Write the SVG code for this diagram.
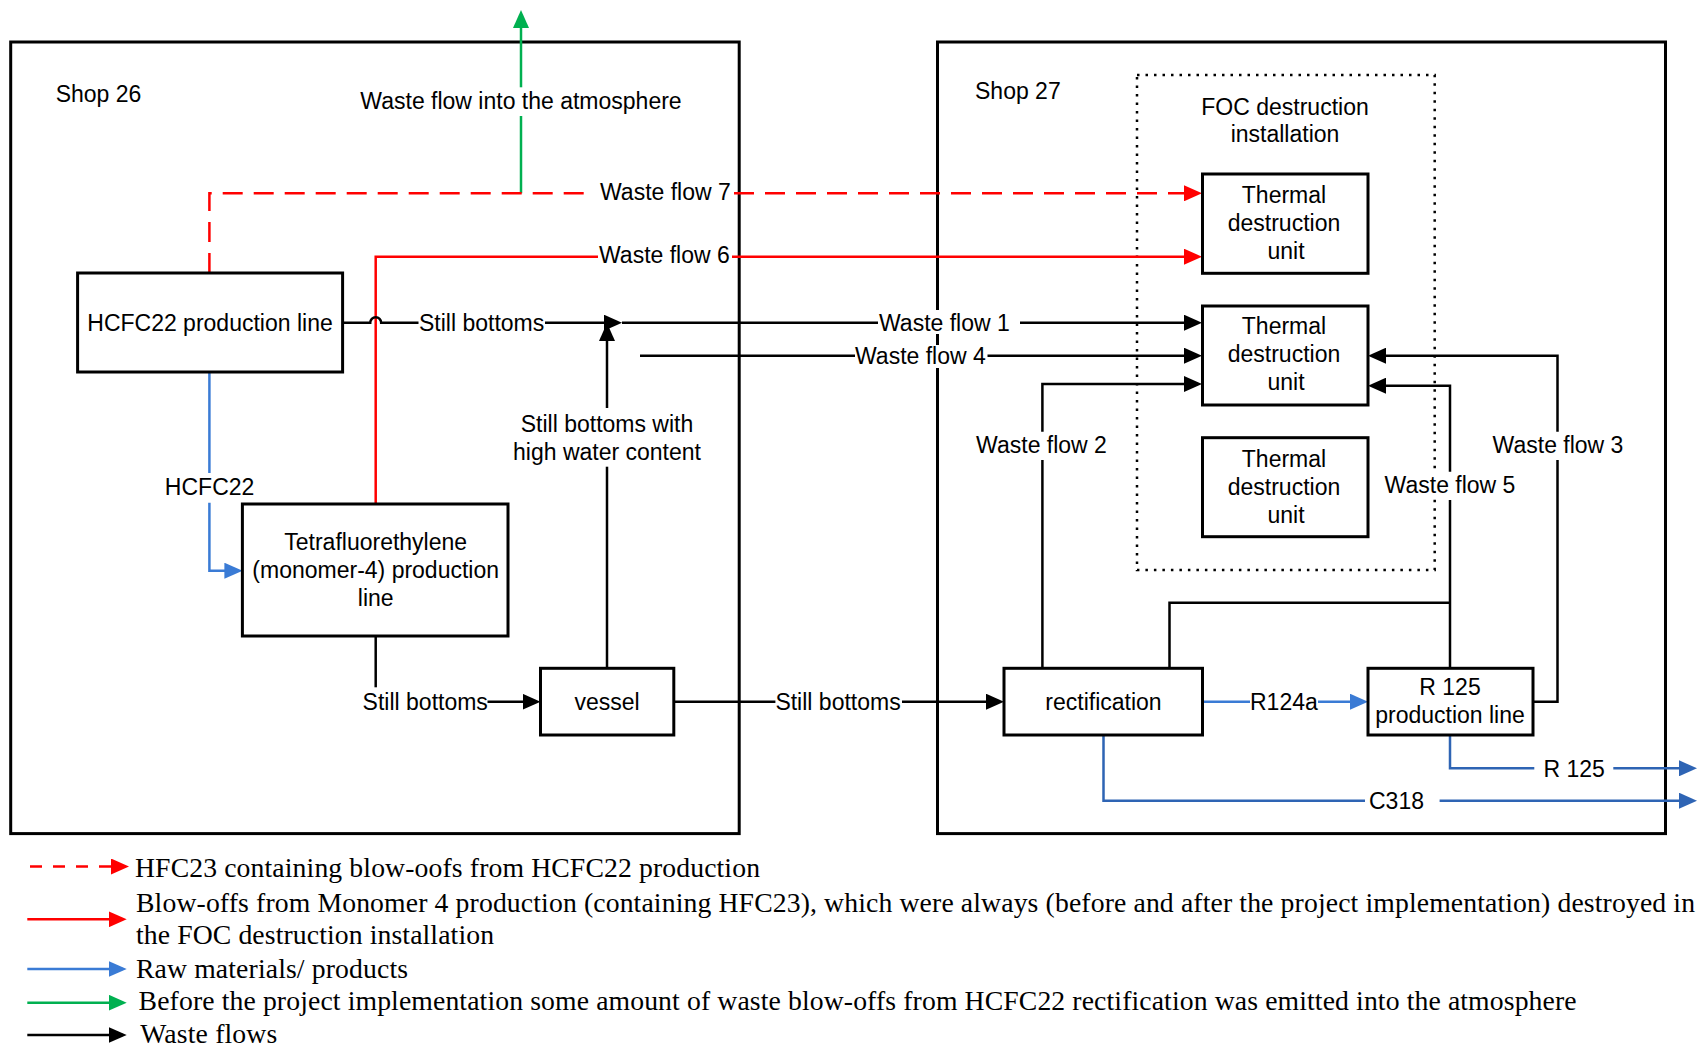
<svg xmlns="http://www.w3.org/2000/svg" width="1698" height="1048" viewBox="0 0 1698 1048">
<style>
  .frame { fill: none; stroke: #000; stroke-width: 3; }
  .dotted { fill: none; stroke: #000; stroke-width: 2.5; stroke-dasharray: 2.5 6; }
  .box { fill: #fff; stroke: #000; stroke-width: 3; }
  .t { font-family: "Liberation Sans", Arial, sans-serif; font-size: 23px; fill: #000; }
  .c { text-anchor: middle; }
  .lg { font-family: "Liberation Serif", "Times New Roman", serif; font-size: 27.7px; fill: #000; }
  .k { fill: none; stroke: #000; stroke-width: 2.5; }
  .kA { fill: none; stroke: #000; stroke-width: 2.5; marker-end: url(#mK); }
  .r { fill: none; stroke: #FF0000; stroke-width: 2.5; }
  .rA { fill: none; stroke: #FF0000; stroke-width: 2.5; marker-end: url(#mR); }
  .rd { fill: none; stroke: #FF0000; stroke-width: 2.5; stroke-dasharray: 20 11; }
  .rdA { fill: none; stroke: #FF0000; stroke-width: 2.5; stroke-dasharray: 20 11; marker-end: url(#mR); }
  .b { fill: none; stroke: #3A7BD5; stroke-width: 2.5; }
  .bA { fill: none; stroke: #3A7BD5; stroke-width: 2.5; marker-end: url(#mB); }
  .d { fill: none; stroke: #2E64B4; stroke-width: 2.5; }
  .dA { fill: none; stroke: #2E64B4; stroke-width: 2.5; marker-end: url(#mD); }
  .g { fill: none; stroke: #00B050; stroke-width: 2.5; }
  .gA { fill: none; stroke: #00B050; stroke-width: 2.5; marker-end: url(#mG); }
  .bg { fill: #fff; }
</style>
<defs>
  <marker id="mK" markerUnits="userSpaceOnUse" markerWidth="18" markerHeight="16" refX="14" refY="8" orient="auto"><path d="M0,0 L18,8 L0,16 Z" fill="#000"/></marker>
  <marker id="mR" markerUnits="userSpaceOnUse" markerWidth="18" markerHeight="16" refX="14" refY="8" orient="auto"><path d="M0,0 L18,8 L0,16 Z" fill="#FF0000"/></marker>
  <marker id="mB" markerUnits="userSpaceOnUse" markerWidth="18" markerHeight="16" refX="14" refY="8" orient="auto"><path d="M0,0 L18,8 L0,16 Z" fill="#3A7BD5"/></marker>
  <marker id="mD" markerUnits="userSpaceOnUse" markerWidth="18" markerHeight="16" refX="14" refY="8" orient="auto"><path d="M0,0 L18,8 L0,16 Z" fill="#2E64B4"/></marker>
  <marker id="mG" markerUnits="userSpaceOnUse" markerWidth="18" markerHeight="16" refX="14" refY="8" orient="auto"><path d="M0,0 L18,8 L0,16 Z" fill="#00B050"/></marker>
</defs>
<rect width="1698" height="1048" fill="#fff"/>

<g id="shop26">
  <rect class="frame" x="10.7" y="42" width="728.5" height="791.6"/>
  <text class="t" x="55.7" y="102">Shop 26</text>
</g>
<g id="shop27">
  <rect class="frame" x="937.5" y="42" width="728" height="791.6"/>
  <text class="t" x="975" y="99">Shop 27</text>
</g>
<g id="foc-installation">
  <rect class="dotted" x="1137" y="75" width="297.7" height="495"/>
  <text class="t c" x="1285" y="115">FOC destruction</text>
  <text class="t c" x="1285" y="142">installation</text>
</g>

<g id="connectors">
  <!-- green: waste flow into atmosphere -->
  <path class="gA" d="M521 87.3 V14"/>
  <path class="g" d="M521 116 V193.3"/>
  <!-- red dashed: waste flow 7 -->
  <path class="rd" d="M209.4 273 V193.3 H589"/>
  <path class="rdA" d="M734 193.3 H1198"/>
  <!-- red solid: waste flow 6 -->
  <path class="r" d="M375.7 504 V256.7 H598"/>
  <path class="rA" d="M732 256.7 H1198"/>
  <!-- still bottoms from HCFC22 line with hop -->
  <path class="k" d="M342.7 322.7 H370.2 A5.5 5.5 0 0 1 381.2 322.7 H418.5"/>
  <path class="kA" d="M545 322.7 H618"/>
  <!-- waste flow 1 -->
  <path class="k" d="M622 322.7 H879"/>
  <path class="kA" d="M1020 322.7 H1198"/>
  <!-- still bottoms with high water content -->
  <path class="k" d="M607 668.3 V466.7"/>
  <path class="kA" d="M607 408 V327"/>
  <!-- waste flow 4 -->
  <path class="k" d="M640 355.7 H855"/>
  <path class="kA" d="M987.5 355.7 H1198"/>
  <!-- waste flow 2 -->
  <path class="k" d="M1042.4 668.3 V460"/>
  <path class="kA" d="M1042.4 431.7 V384 H1198"/>
  <!-- waste flow 5 -->
  <path class="k" d="M1450 668.3 V500"/>
  <path class="kA" d="M1450 471.7 V385.7 H1372"/>
  <path class="k" d="M1169.5 668.3 V602.7 H1450"/>
  <!-- waste flow 3 -->
  <path class="k" d="M1533 701.7 H1557.5 V460"/>
  <path class="kA" d="M1557.5 431.7 V355.7 H1372"/>
  <!-- monomer still bottoms to vessel -->
  <path class="k" d="M375.7 636 V687.3"/>
  <path class="kA" d="M487.5 701.7 H536.5"/>
  <!-- vessel to rectification -->
  <path class="k" d="M673.8 701.7 H775.4"/>
  <path class="kA" d="M902 701.7 H1000"/>
  <!-- HCFC22 raw material -->
  <path class="b" d="M209.4 372 V473"/>
  <path class="bA" d="M209.4 502.7 V570.7 H238.4"/>
  <!-- R124a -->
  <path class="b" d="M1202.5 701.7 H1250"/>
  <path class="bA" d="M1318 701.7 H1364"/>
  <!-- R 125 product -->
  <path class="d" d="M1450 735 V768.3 H1534.3"/>
  <path class="dA" d="M1613.3 768.3 H1693"/>
  <!-- C318 product -->
  <path class="d" d="M1103.5 735 V800.7 H1365"/>
  <path class="dA" d="M1439.6 800.7 H1693"/>
</g>

<g id="labels">
  <text class="t c" x="521" y="109">Waste flow into the atmosphere</text>
  <text class="t" x="600" y="200">Waste flow 7</text>
  <text class="t" x="599" y="263">Waste flow 6</text>
  <text class="t" x="419" y="331">Still bottoms</text>
  <rect class="bg" x="878" y="310" width="142" height="24"/>
  <text class="t" x="879" y="331">Waste flow 1</text>
  <rect class="bg" x="855" y="345" width="132" height="23"/>
  <text class="t" x="855" y="364">Waste flow 4</text>
  <text class="t c" x="607" y="431.5">Still bottoms with</text>
  <text class="t c" x="607" y="460">high water content</text>
  <text class="t c" x="209.6" y="495">HCFC22</text>
  <text class="t" x="362.6" y="710">Still bottoms</text>
  <text class="t" x="775.4" y="710">Still bottoms</text>
  <text class="t c" x="1041.5" y="453.3">Waste flow 2</text>
  <rect class="bg" x="1382" y="472" width="136" height="27"/>
  <text class="t c" x="1450" y="493.3">Waste flow 5</text>
  <text class="t c" x="1558" y="453.3">Waste flow 3</text>
  <text class="t" x="1250" y="710">R124a</text>
  <text class="t" x="1543.5" y="776.5">R 125</text>
  <text class="t" x="1369" y="809">C318</text>
</g>

<g id="hcfc22-line">
  <rect class="box" x="77.6" y="273" width="265" height="99"/>
  <text class="t c" x="210" y="331">HCFC22 production line</text>
</g>
<g id="monomer4-line">
  <rect class="box" x="242.4" y="504" width="265.6" height="132"/>
  <text class="t c" x="375.7" y="550">Tetrafluorethylene</text>
  <text class="t c" x="375.7" y="578">(monomer-4) production</text>
  <text class="t c" x="375.7" y="606">line</text>
</g>
<g id="vessel">
  <rect class="box" x="540.5" y="668.3" width="133.3" height="66.7"/>
  <text class="t c" x="607" y="710">vessel</text>
</g>
<g id="thermal-unit-1">
  <rect class="box" x="1202.5" y="174" width="165.5" height="99.3"/>
  <text class="t c" x="1284" y="202.7">Thermal</text>
  <text class="t c" x="1284" y="231">destruction</text>
  <text class="t c" x="1286" y="259">unit</text>
</g>
<g id="thermal-unit-2">
  <rect class="box" x="1202.5" y="306" width="165.5" height="99"/>
  <text class="t c" x="1284" y="334">Thermal</text>
  <text class="t c" x="1284" y="362">destruction</text>
  <text class="t c" x="1286" y="390">unit</text>
</g>
<g id="thermal-unit-3">
  <rect class="box" x="1202.5" y="437.7" width="165.5" height="99"/>
  <text class="t c" x="1284" y="466.7">Thermal</text>
  <text class="t c" x="1284" y="495">destruction</text>
  <text class="t c" x="1286" y="523">unit</text>
</g>
<g id="rectification">
  <rect class="box" x="1004" y="668.3" width="198.5" height="66.7"/>
  <text class="t c" x="1103.5" y="710">rectification</text>
</g>
<g id="r125-line">
  <rect class="box" x="1368" y="668.3" width="165" height="66.7"/>
  <text class="t c" x="1450" y="695">R 125</text>
  <text class="t c" x="1450" y="722.7">production line</text>
</g>

<g id="legend">
  <path d="M30 866.5 H111" fill="none" stroke="#FF0000" stroke-width="2.5" stroke-dasharray="12 11"/>
  <path d="M111 866.5 H125" fill="none" stroke="#FF0000" stroke-width="2.5" marker-end="url(#mR)"/>
  <path d="M27.3 919.3 H122.7" fill="none" stroke="#FF0000" stroke-width="2.5" marker-end="url(#mR)"/>
  <path d="M27.3 969 H122.7" fill="none" stroke="#3A7BD5" stroke-width="2.5" marker-end="url(#mB)"/>
  <path d="M27.3 1002.7 H122.7" fill="none" stroke="#00B050" stroke-width="2.5" marker-end="url(#mG)"/>
  <path d="M27.3 1035 H122.7" fill="none" stroke="#000" stroke-width="2.5" marker-end="url(#mK)"/>
  <text class="lg" x="135" y="876.7" textLength="625">HFC23 containing blow-oofs from HCFC22 production</text>
  <text class="lg" x="136" y="911.7" textLength="1559">Blow-offs from Monomer 4 production (containing HFC23), which were always (before and after the project implementation) destroyed in</text>
  <text class="lg" x="136" y="944.3" textLength="358">the FOC destruction installation</text>
  <text class="lg" x="136" y="978.3" textLength="272">Raw materials/ products</text>
  <text class="lg" x="138.6" y="1010" textLength="1438">Before the project implementation some amount of waste blow-offs from HCFC22 rectification was emitted into the atmosphere</text>
  <text class="lg" x="140.3" y="1043.3" textLength="137">Waste flows</text>
</g>
</svg>
